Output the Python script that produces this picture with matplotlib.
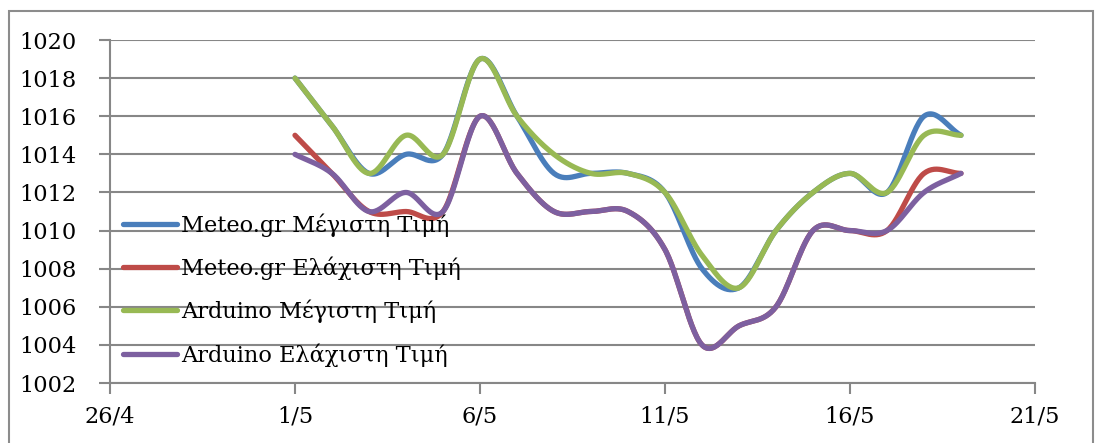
import numpy as np
import matplotlib.pyplot as plt
from matplotlib.patches import Rectangle

# days counted from 26/4
days = np.arange(5, 24)  # 1/5 .. 19/5
tick_days = [0, 5, 10, 15, 20, 25]
tick_labels = ['26/4', '1/5', '6/5', '11/5', '16/5', '21/5']

meteo_max = [1018, 1015.5, 1013, 1014, 1014, 1019, 1016, 1013, 1013, 1013,
             1012, 1008, 1007, 1010, 1012, 1013, 1012, 1016, 1015]
meteo_min = [1015, 1013, 1011, 1011, 1011, 1016, 1013, 1011, 1011, 1011,
             1009, 1004, 1005, 1006, 1010, 1010, 1010, 1013, 1013]
ard_max = [1018, 1015.5, 1013, 1015, 1014, 1019, 1016, 1014, 1013, 1013,
           1012, 1008.7, 1007, 1010, 1012, 1013, 1012, 1015, 1015]
ard_min = [1014, 1013, 1011, 1012, 1011, 1016, 1013, 1011, 1011, 1011,
           1009, 1004, 1005, 1006, 1010, 1010, 1010, 1012, 1013]

series = [
    ('Meteo.gr Μέγιστη Τιμή', meteo_max, '#4A7EBB'),
    ('Meteo.gr Ελάχιστη Τιμή', meteo_min, '#BE4B48'),
    ('Arduino Μέγιστη Τιμή', ard_max, '#98B954'),
    ('Arduino Ελάχιστη Τιμή', ard_min, '#7D60A0'),
]


def smooth(x, y, n=30):
    # Catmull-Rom spline through the points (like spreadsheet smoothed lines)
    x = np.asarray(x, float)
    y = np.asarray(y, float)
    px = np.concatenate([[2 * x[0] - x[1]], x, [2 * x[-1] - x[-2]]])
    py = np.concatenate([[2 * y[0] - y[1]], y, [2 * y[-1] - y[-2]]])
    t = np.linspace(0, 1, n)
    xs, ys = [], []
    for i in range(1, len(px) - 2):
        for p, out in ((px, xs), (py, ys)):
            p0, p1, p2, p3 = p[i - 1], p[i], p[i + 1], p[i + 2]
            out.append(0.5 * (2 * p1 + (-p0 + p2) * t
                              + (2 * p0 - 5 * p1 + 4 * p2 - p3) * t ** 2
                              + (-p0 + 3 * p1 - 3 * p2 + p3) * t ** 3))
    return np.concatenate(xs), np.concatenate(ys)


plt.rcParams['font.family'] = ['DejaVu Serif']
fs = 16.2

fig = plt.figure(figsize=(11.02, 4.43), dpi=100)
fig.patches.append(Rectangle((9 / 1102, -0.1), 1084 / 1102, 1.1 - 11 / 443,
                             transform=fig.transFigure, fill=False,
                             edgecolor='#8c8c8c', linewidth=1.5))
ax = fig.add_axes([0.0998, 0.1354, 0.8394, 0.7743])

grid_c = '#878787'
for name, vals, col in series:
    sx, sy = smooth(days, vals)
    ax.plot(sx, sy, color=col, linewidth=3.8, label=name,
            solid_capstyle='round', zorder=3)

ax.set_xlim(0, 25)
ax.set_ylim(1002, 1020)
ax.set_yticks(np.arange(1002, 1021, 2))
ax.set_xticks(tick_days)
ax.set_xticklabels(tick_labels)
ax.yaxis.grid(True, color=grid_c, linewidth=1.5)
ax.set_axisbelow(True)
for s in ['top', 'right']:
    ax.spines[s].set_visible(False)
for s in ['left', 'bottom']:
    ax.spines[s].set_color(grid_c)
    ax.spines[s].set_linewidth(1.5)
ax.tick_params(axis='both', colors=grid_c, length=8, width=1.5,
               labelcolor='black', labelsize=fs)
ax.tick_params(axis='y', pad=16)
ax.tick_params(axis='x', pad=8)

leg = ax.legend(loc='upper left', bbox_to_anchor=(0.014, 0.495), frameon=False,
                fontsize=fs, handlelength=2.4, handletextpad=0.17,
                labelspacing=0.88, borderaxespad=0.0, borderpad=0.0)
leg.set_zorder(5)

fig.savefig('out.png', dpi=100)
